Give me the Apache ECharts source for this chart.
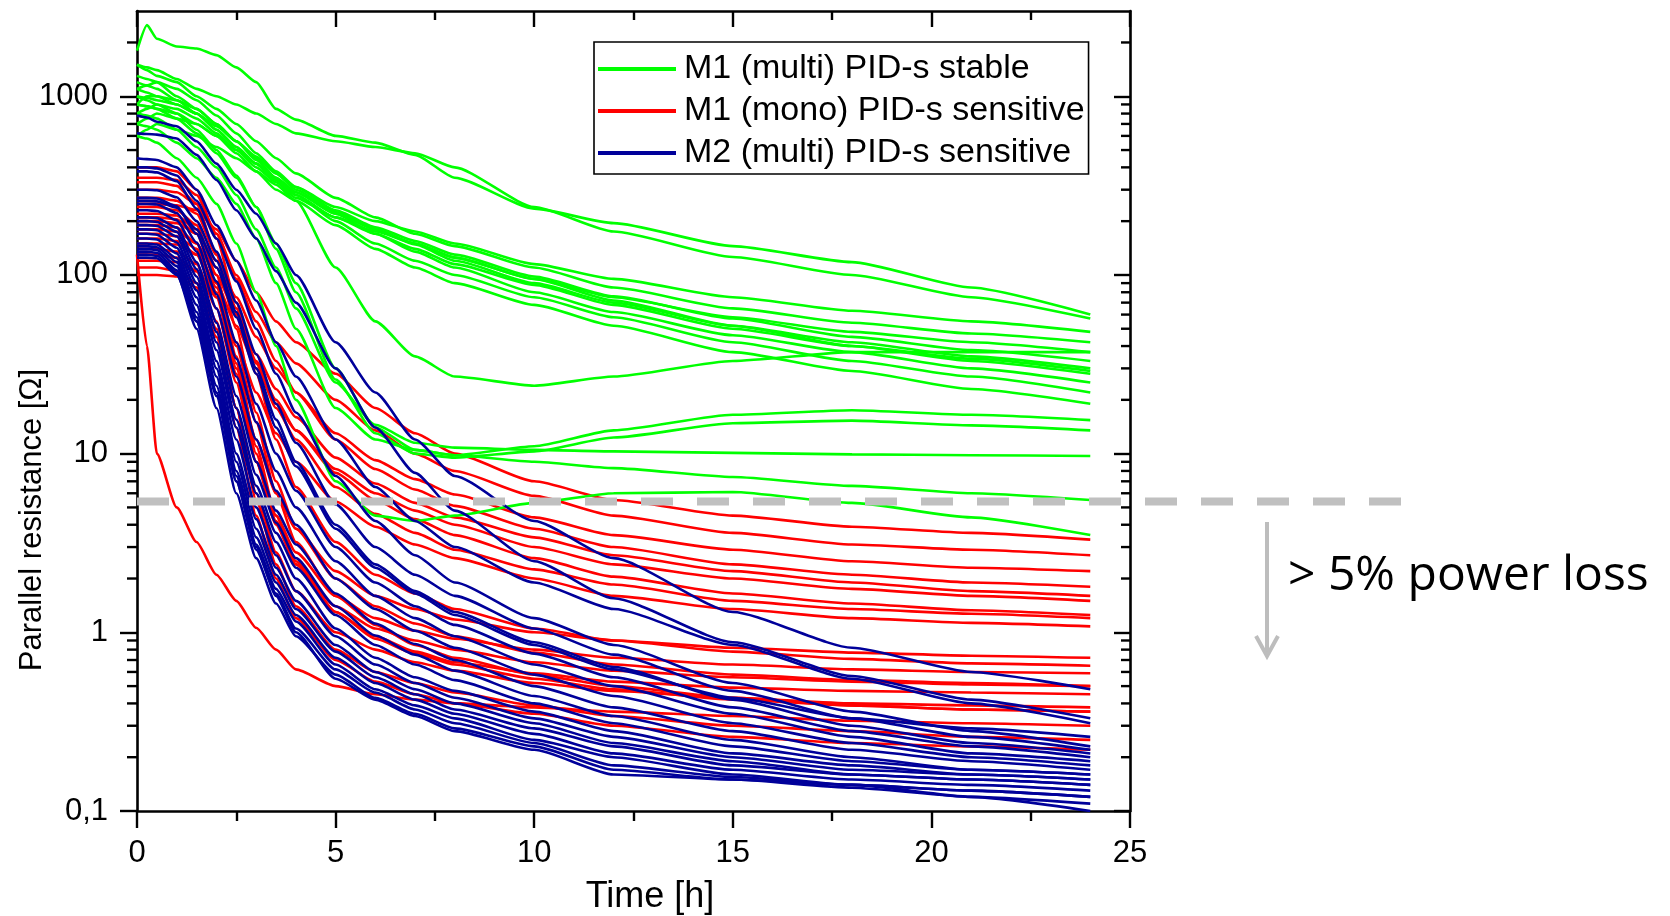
<!DOCTYPE html>
<html>
<head>
<meta charset="utf-8">
<title>Parallel resistance vs time</title>
<script src="https://cdn.jsdelivr.net/npm/echarts@6/dist/echarts.min.js"></script>
<style>
  html, body { margin: 0; padding: 0; background: #fff; }
  #chart { width: 1670px; height: 916px; }
</style>
</head>
<body>
<div id="chart"></div>
<script>
// time axis shared by every measured run [h]
const hours = [0, 0.25, 0.5, 1, 1.5, 2, 2.5, 3, 3.5, 4, 5, 6, 7, 8, 10, 12, 15, 18, 21, 24];

// M1 (multi) PID-s stable, parallel resistance [Ohm]
const stableM1 = [
  [1800, 2500, 2100, 1900, 1850, 1700, 1450, 1200, 850, 740, 600, 550, 470, 350, 235, 195, 145, 118, 85, 60],
  [1500, 1450, 1400, 1250, 1100, 1000, 900, 800, 700, 620, 560, 520, 480, 400, 240, 175, 126, 100, 75, 57],
  [1100, 1050, 1000, 950, 850, 700, 560, 450, 370, 310, 240, 200, 175, 150, 115, 95, 75, 63, 55, 48],
  [900, 1000, 1000, 900, 800, 650, 520, 420, 340, 280, 210, 175, 150, 125, 95, 75, 58, 48, 42, 37],
  [1300, 1250, 1200, 1000, 850, 700, 560, 440, 350, 290, 220, 180, 150, 125, 95, 72, 52, 42, 35, 30],
  [800, 850, 900, 850, 750, 620, 500, 400, 330, 270, 210, 170, 140, 115, 88, 68, 50, 40, 34, 29],
  [1000, 980, 950, 900, 800, 680, 560, 460, 370, 300, 225, 180, 148, 120, 90, 70, 52, 40, 33, 28],
  [700, 750, 800, 750, 700, 600, 500, 420, 350, 290, 220, 170, 135, 110, 80, 62, 46, 37, 30, 25],
  [1200, 1150, 1100, 950, 800, 650, 520, 420, 340, 280, 200, 150, 120, 100, 75, 58, 42, 33, 27, 22],
  [600, 650, 700, 650, 600, 520, 450, 380, 320, 260, 190, 140, 110, 90, 68, 52, 37, 29, 23, 19],
  [1500, 1400, 1300, 1200, 1000, 850, 700, 560, 450, 370, 270, 210, 170, 145, 110, 85, 65, 54, 47, 42],
  [1100, 1150, 1200, 1100, 950, 780, 620, 480, 380, 310, 230, 185, 155, 130, 98, 76, 57, 45, 38, 33],
  [900, 880, 850, 800, 700, 600, 480, 380, 300, 260, 110, 55, 35, 27, 24, 27, 33, 37, 37, 37],
  [900, 880, 850, 750, 620, 480, 350, 240, 150, 90, 30, 14, 10.5, 9.8, 11, 13.5, 16.5, 17.5, 16.5, 15.4],
  [1000, 950, 900, 800, 650, 500, 360, 240, 140, 80, 26, 13, 10, 9.5, 10.3, 12.3, 14.8, 15.3, 14.4, 13.5],
  [800, 780, 750, 650, 520, 400, 280, 180, 110, 65, 25, 14.5, 11.5, 10.8, 10.5, 10.3, 10.1, 9.9, 9.8, 9.7],
  [700, 680, 650, 550, 450, 350, 250, 160, 90, 50, 18, 12, 10.5, 9.8, 9.0, 8.3, 7.4, 6.6, 6.0, 5.5],
  [600, 580, 550, 450, 350, 250, 150, 80, 40, 20, 7, 4.5, 4.2, 4.5, 5.3, 6.0, 6.1, 5.3, 4.4, 3.5]
];

// M1 (mono) PID-s sensitive
const monoM1 = [
  [130, 40, 10, 5, 3.2, 2.1, 1.5, 1.06, 0.8, 0.62, 0.5, 0.45, 0.42, 0.4, 0.38, 0.36, 0.34, 0.32, 0.31, 0.3],
  [250, 250, 250, 245, 230, 180, 120, 80, 55, 42, 28, 18, 13, 10, 7.0, 5.5, 4.5, 3.9, 3.6, 3.3],
  [300, 300, 300, 290, 250, 170, 100, 62, 42, 32, 20, 13.5, 10, 8, 5.8, 4.5, 3.6, 3.1, 2.9, 2.7],
  [200, 200, 200, 195, 170, 120, 75, 45, 30, 22, 13, 9.2, 7.2, 5.9, 4.4, 3.5, 2.9, 2.5, 2.3, 2.2],
  [350, 350, 350, 340, 280, 170, 95, 55, 33, 22, 12, 8.2, 6.3, 5.1, 3.8, 3.0, 2.4, 2.1, 1.9, 1.8],
  [180, 180, 180, 175, 150, 100, 60, 36, 23, 16, 9.5, 6.8, 5.3, 4.4, 3.4, 2.7, 2.2, 1.9, 1.7, 1.6],
  [150, 150, 150, 148, 130, 90, 52, 30, 19, 13.5, 8.2, 6.0, 4.8, 4.0, 3.0, 2.4, 2.0, 1.75, 1.6, 1.5],
  [220, 220, 220, 215, 180, 110, 60, 33, 20, 13.5, 7.8, 5.5, 4.3, 3.5, 2.6, 2.05, 1.65, 1.45, 1.33, 1.25],
  [270, 270, 270, 260, 220, 130, 65, 32, 18, 12, 6.5, 4.6, 3.6, 2.9, 2.25, 1.85, 1.5, 1.35, 1.27, 1.2],
  [120, 120, 120, 118, 105, 75, 42, 22, 13, 9, 5.4, 3.9, 3.1, 2.6, 2.0, 1.6, 1.35, 1.2, 1.13, 1.08],
  [160, 160, 160, 155, 130, 75, 30, 12, 6, 3.8, 2.2, 1.6, 1.35, 1.18, 1.0, 0.9, 0.82, 0.77, 0.74, 0.72],
  [400, 400, 400, 380, 300, 160, 70, 28, 12, 6.5, 3.2, 2.1, 1.65, 1.35, 1.05, 0.9, 0.78, 0.71, 0.67, 0.65],
  [140, 140, 140, 135, 115, 65, 25, 9, 4.5, 2.8, 1.6, 1.2, 1.02, 0.92, 0.8, 0.72, 0.66, 0.62, 0.6, 0.59],
  [190, 190, 190, 185, 150, 80, 28, 9, 4, 2.4, 1.4, 1.05, 0.9, 0.8, 0.68, 0.61, 0.56, 0.53, 0.51, 0.5],
  [330, 330, 330, 315, 250, 130, 50, 17, 7, 3.8, 2.0, 1.4, 1.12, 0.95, 0.77, 0.66, 0.58, 0.54, 0.52, 0.5],
  [110, 110, 110, 105, 90, 50, 18, 6, 2.8, 1.7, 1.0, 0.8, 0.68, 0.61, 0.52, 0.47, 0.43, 0.4, 0.39, 0.38],
  [240, 240, 240, 230, 190, 100, 35, 11, 4.5, 2.5, 1.3, 0.92, 0.76, 0.66, 0.55, 0.48, 0.42, 0.39, 0.37, 0.36],
  [170, 170, 170, 165, 140, 85, 40, 15, 6, 3.2, 1.6, 1.1, 0.85, 0.72, 0.58, 0.5, 0.43, 0.39, 0.37, 0.36],
  [130, 130, 130, 125, 105, 55, 18, 5.5, 2.4, 1.4, 0.8, 0.6, 0.52, 0.46, 0.39, 0.34, 0.3, 0.28, 0.26, 0.25],
  [100, 100, 100, 98, 85, 45, 14, 4.5, 2.0, 1.2, 0.7, 0.53, 0.45, 0.4, 0.35, 0.3, 0.26, 0.24, 0.23, 0.22],
  [210, 210, 210, 205, 170, 90, 32, 10, 4.2, 2.4, 1.3, 0.95, 0.78, 0.68, 0.59, 0.53, 0.49, 0.47, 0.46, 0.45]
];

// M2 (multi) PID-s sensitive
const multiM2 = [
  [780, 760, 720, 680, 560, 420, 300, 220, 150, 100, 42, 22, 12, 7.5, 4.2, 2.6, 1.3, 0.82, 0.6, 0.48],
  [620, 615, 610, 580, 470, 340, 230, 160, 105, 70, 30, 14, 7.8, 4.8, 2.5, 1.55, 0.88, 0.57, 0.42, 0.33],
  [450, 445, 440, 400, 300, 190, 120, 72, 42, 27, 12, 6.5, 4.2, 3.0, 1.9, 1.35, 0.85, 0.55, 0.4, 0.31],
  [400, 400, 395, 360, 260, 160, 92, 50, 28, 17, 7.5, 4.2, 2.7, 1.9, 1.2, 0.85, 0.52, 0.36, 0.28, 0.23],
  [380, 380, 375, 335, 235, 135, 70, 36, 19, 11.5, 5.2, 3.0, 2.1, 1.6, 1.05, 0.75, 0.47, 0.33, 0.26, 0.22],
  [300, 300, 298, 272, 200, 120, 62, 30, 15.5, 9, 4.0, 2.4, 1.7, 1.3, 0.88, 0.64, 0.42, 0.3, 0.24, 0.21],
  [270, 270, 268, 242, 170, 92, 42, 19, 10, 6.2, 3.0, 1.9, 1.4, 1.1, 0.76, 0.56, 0.38, 0.28, 0.23, 0.2],
  [250, 250, 248, 222, 152, 78, 34, 15, 8, 5.0, 2.5, 1.6, 1.2, 0.95, 0.66, 0.5, 0.35, 0.26, 0.21, 0.19],
  [230, 230, 228, 202, 135, 65, 27, 12, 6.2, 4.0, 2.0, 1.35, 1.02, 0.82, 0.58, 0.44, 0.31, 0.24, 0.2, 0.18],
  [210, 210, 208, 184, 118, 54, 21, 9, 4.8, 3.1, 1.65, 1.12, 0.86, 0.7, 0.5, 0.38, 0.28, 0.22, 0.19, 0.17],
  [200, 200, 198, 174, 108, 48, 18, 7.6, 4.1, 2.6, 1.4, 0.96, 0.75, 0.61, 0.44, 0.34, 0.25, 0.2, 0.17, 0.16],
  [190, 190, 188, 164, 98, 42, 15.5, 6.6, 3.6, 2.3, 1.25, 0.85, 0.66, 0.54, 0.4, 0.31, 0.23, 0.19, 0.17, 0.16],
  [180, 180, 178, 152, 90, 38, 14, 6, 3.2, 2.0, 1.05, 0.72, 0.56, 0.47, 0.36, 0.28, 0.21, 0.18, 0.16, 0.15],
  [170, 170, 168, 142, 82, 33, 12, 5, 2.7, 1.7, 0.95, 0.66, 0.52, 0.43, 0.33, 0.26, 0.2, 0.17, 0.16, 0.15],
  [160, 160, 158, 132, 75, 30, 10, 4.3, 2.3, 1.5, 0.85, 0.6, 0.48, 0.4, 0.31, 0.24, 0.19, 0.16, 0.15, 0.14],
  [150, 150, 148, 124, 68, 27, 9, 3.8, 2.1, 1.35, 0.78, 0.56, 0.45, 0.37, 0.29, 0.23, 0.18, 0.16, 0.15, 0.14],
  [145, 145, 143, 118, 62, 24, 8, 3.4, 1.9, 1.25, 0.72, 0.52, 0.42, 0.35, 0.27, 0.21, 0.17, 0.15, 0.14, 0.13],
  [140, 140, 138, 112, 58, 22, 7.5, 3.1, 1.75, 1.15, 0.66, 0.48, 0.39, 0.33, 0.25, 0.2, 0.16, 0.14, 0.13, 0.12],
  [135, 135, 133, 106, 55, 21, 7, 2.9, 1.65, 1.05, 0.62, 0.46, 0.37, 0.31, 0.24, 0.18, 0.155, 0.14, 0.13, 0.12],
  [130, 130, 128, 102, 50, 18, 6, 2.6, 1.45, 0.95, 0.58, 0.43, 0.35, 0.29, 0.23, 0.17, 0.15, 0.135, 0.12, 0.11],
  [125, 125, 124, 100, 55, 22, 7, 3, 1.6, 1.0, 0.55, 0.42, 0.34, 0.28, 0.22, 0.16, 0.15, 0.14, 0.12, 0.1],
  [260, 260, 258, 238, 180, 110, 58, 28, 14, 8.5, 3.8, 2.3, 1.65, 1.25, 0.85, 0.62, 0.43, 0.33, 0.29, 0.26]
];

const groupNames = ['M1 (multi) PID-s stable', 'M1 (mono) PID-s sensitive', 'M2 (multi) PID-s sensitive'];
const yMajorTicks = [0.1, 1, 10, 100, 1000];
const yMinorTicks = [0.2, 0.3, 0.4, 0.5, 0.6, 0.7, 0.8, 0.9, 2, 3, 4, 5, 6, 7, 8, 9,
  20, 30, 40, 50, 60, 70, 80, 90, 200, 300, 400, 500, 600, 700, 800, 900, 2000];
const powerLossLimit = 5.4; // Ohm, 5 % power loss threshold

const FONT = '"Liberation Sans", Arial, sans-serif';
const colors = { stable: '#00ff00', mono: '#ff0000', multi: '#00009a' };

const chart = echarts.init(document.getElementById('chart'));

function makeSeries(runs, name, color) {
  return runs.map(run => ({
    name: name,
    type: 'line',
    xAxisIndex: 0,
    yAxisIndex: 0,
    data: hours.map((t, i) => [t, run[i]]),
    symbol: 'none',
    smooth: 0.2,
    smoothMonotone: 'x',
    silent: true,
    lineStyle: { color: color, width: 2.6 },
    itemStyle: { color: color }
  }));
}

// minor ticks of the log axis (2..9 in each decade), left outward and right inward
const minorTickSeries = {
  type: 'custom',
  xAxisIndex: 0,
  yAxisIndex: 0,
  clip: false,
  silent: true,
  z: 5,
  data: yMinorTicks.map(v => [0, v]),
  renderItem: (params, api) => {
    const left = api.coord([0, api.value(1)]);
    const right = api.coord([25, api.value(1)]);
    const style = { stroke: '#000', lineWidth: 2.4 };
    return {
      type: 'group',
      children: [
        { type: 'line', shape: { x1: left[0] - 10, y1: left[1], x2: left[0], y2: left[1] }, style: style },
        { type: 'line', shape: { x1: right[0] - 9, y1: right[1], x2: right[0], y2: right[1] }, style: style }
      ]
    };
  }
};

const series = [
  ...makeSeries(monoM1, groupNames[1], colors.mono),
  ...makeSeries(stableM1, groupNames[0], colors.stable),
  ...makeSeries(multiM2, groupNames[2], colors.multi),
  minorTickSeries
];

const axisLine = { show: true, onZero: false, lineStyle: { color: '#000', width: 2.6 } };

function logAxis(position, len, inside, withLabels) {
  return {
    type: 'log',
    logBase: 10,
    min: 0.1,
    max: 3000,
    position: position,
    axisLine: axisLine,
    axisTick: {
      show: true, inside: inside, length: len, customValues: yMajorTicks,
      lineStyle: { color: '#000', width: 2.4 }
    },
    axisLabel: withLabels ? {
      show: true,
      customValues: yMajorTicks,
      margin: 29,
      fontSize: 31,
      fontFamily: FONT,
      color: '#000',
      formatter: v => (Math.abs(v - 0.1) < 1e-9 ? '0,1' : String(Math.round(v)))
    } : { show: false },
    splitLine: { show: false },
    minorTick: { show: false }
  };
}

const option = {
  animation: false,
  backgroundColor: '#fff',
  grid: {
    left: 137, top: 11, width: 993, height: 800,
    containLabel: false, outerBoundsMode: 'none'
  },
  legend: {
    data: groupNames,
    orient: 'vertical',
    left: 594,
    top: 42,
    padding: [10, 4, 4, 4],
    icon: 'rect',
    itemWidth: 78,
    itemHeight: 4,
    itemGap: 8,
    backgroundColor: '#fff',
    borderColor: '#000',
    borderWidth: 1.6,
    selectedMode: false,
    textStyle: { fontSize: 34, fontFamily: FONT, color: '#000', lineHeight: 33, padding: [0, 0, 0, 3] }
  },
  xAxis: [
    {
      type: 'value', min: 0, max: 25, interval: 5, position: 'bottom',
      axisLine: axisLine,
      axisTick: { show: true, inside: false, length: 17, lineStyle: { color: '#000', width: 2.4 } },
      minorTick: { show: true, splitNumber: 2, length: 10, lineStyle: { color: '#000', width: 2.4 } },
      axisLabel: { margin: 27, fontSize: 31, fontFamily: FONT, color: '#000' },
      splitLine: { show: false }, minorSplitLine: { show: false }
    },
    {
      type: 'value', min: 0, max: 25, interval: 5, position: 'top',
      axisLine: axisLine,
      axisTick: { show: true, inside: true, length: 16, lineStyle: { color: '#000', width: 2.4 } },
      minorTick: { show: true, splitNumber: 2, length: 9, lineStyle: { color: '#000', width: 2.4 } },
      axisLabel: { show: false },
      splitLine: { show: false }, minorSplitLine: { show: false }
    }
  ],
  yAxis: [
    logAxis('left', 17, false, true),
    logAxis('right', 16, true, false)
  ],
  series: series
};

chart.setOption(option);

// threshold line, arrow and axis titles placed with the chart's own scales
const yLimit = chart.convertToPixel({ yAxisIndex: 0 }, powerLossLimit);
const xZero = chart.convertToPixel({ xAxisIndex: 0 }, 0);
const arrowX = 1267;

chart.setOption({
  graphic: [
    {
      type: 'line', z: 100, silent: true,
      shape: { x1: xZero, y1: yLimit, x2: 1401, y2: yLimit },
      style: { stroke: '#c0c0c0', lineWidth: 8, lineDash: [32, 24] }
    },
    {
      type: 'line', z: 100, silent: true,
      shape: { x1: arrowX, y1: 522, x2: arrowX, y2: 655 },
      style: { stroke: '#bdbdbd', lineWidth: 4 }
    },
    {
      type: 'polyline', z: 100, silent: true,
      shape: { points: [[arrowX - 11, 636], [arrowX, 656], [arrowX + 11, 636]] },
      style: { stroke: '#bdbdbd', lineWidth: 4, fill: null }
    },
    {
      type: 'text', z: 100, silent: true,
      style: {
        text: '> 5% power loss', x: 1288, y: 576,
        verticalAlign: 'middle', align: 'left',
        font: '48px "Open Sans", "Noto Sans", sans-serif', fill: '#000'
      }
    },
    {
      type: 'text', z: 100, silent: true,
      x: 32, y: 520, rotation: Math.PI / 2,
      style: {
        text: 'Parallel resistance [Ω]', x: 0, y: 0,
        align: 'center', verticalAlign: 'middle',
        font: '31px ' + FONT, fill: '#000'
      }
    },
    {
      type: 'text', z: 100, silent: true,
      style: {
        text: 'Time [h]', x: 650, y: 897,
        align: 'center', verticalAlign: 'middle',
        font: '36px ' + FONT, fill: '#000'
      }
    }
  ]
});

window.addEventListener('resize', () => chart.resize());
</script>
</body>
</html>
